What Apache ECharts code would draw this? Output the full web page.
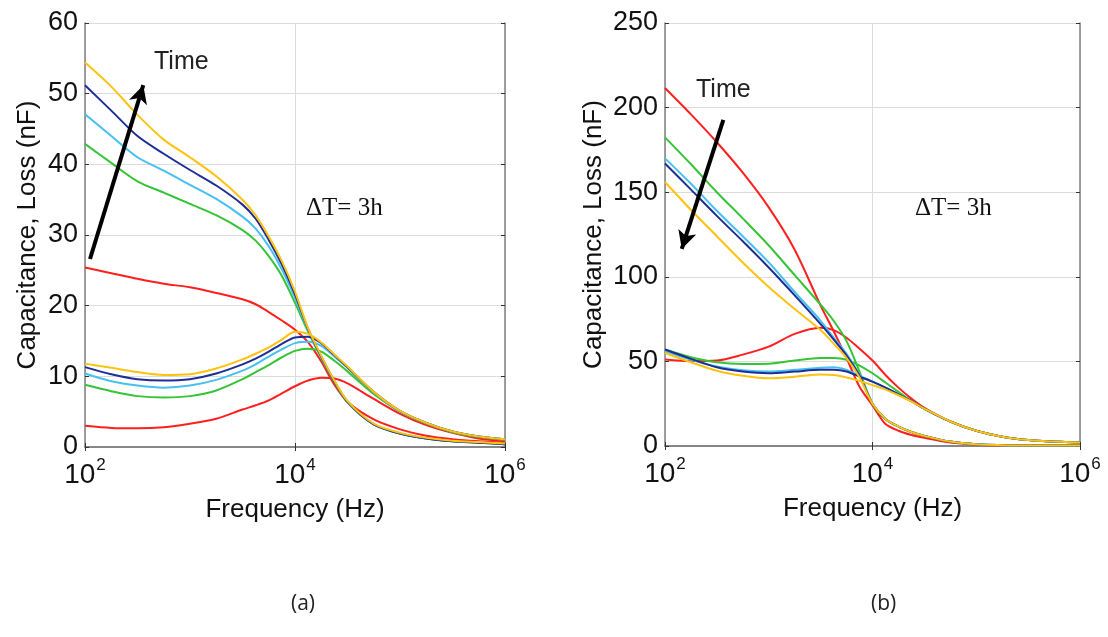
<!DOCTYPE html>
<html><head><meta charset="utf-8">
<script src="https://cdn.jsdelivr.net/npm/echarts@6/dist/echarts.min.js"></script>
<style>html,body{margin:0;padding:0;background:#fff}#c{width:1108px;height:637px}</style>
</head><body><div id="c"></div>
<script>
// Frequencies (Hz), shared by both panels
const freq = [100, 178, 316, 562, 1000, 1778, 3162, 4217, 5623, 7499, 10000, 13335, 17783, 23714, 31623, 56234, 100000, 177828, 316228, 562341, 1000000];

// Panel (a) – capacitance curves (nF)
const aCapRed    = [25.4, 24.6, 23.8, 23.1, 22.6, 21.8, 20.9, 20.2, 19.1, 17.9, 16.6, 14.8, 12.1, 8.8, 6.4, 3.9, 2.5, 1.6, 1.1, 0.8, 0.6];
const aCapGreen  = [42.9, 40.2, 37.6, 36.0, 34.4, 32.8, 30.7, 29.2, 27.0, 24.2, 20.4, 16.3, 12.6, 9.2, 6.3, 3.2, 1.9, 1.2, 0.8, 0.6, 0.4];
const aCapLBlue  = [47.1, 44.0, 41.0, 39.1, 37.1, 35.1, 32.6, 30.9, 28.4, 25.1, 21.1, 16.5, 12.7, 9.3, 6.4, 3.2, 1.9, 1.2, 0.8, 0.6, 0.4];
const aCapDBlue  = [51.2, 47.6, 44.0, 41.5, 39.2, 37.0, 34.3, 32.3, 29.3, 25.8, 21.6, 16.7, 12.8, 9.3, 6.4, 3.2, 1.9, 1.2, 0.8, 0.6, 0.4];
const aCapYellow = [54.4, 51.0, 47.0, 43.5, 41.0, 38.3, 35.0, 32.8, 29.8, 26.3, 22.0, 16.8, 12.9, 9.4, 6.5, 3.3, 2.0, 1.3, 0.9, 0.7, 0.5];
// Panel (a) – loss curves (nF)
const aLossRed    = [3.0, 2.7, 2.65, 2.8, 3.3, 4.0, 5.3, 5.9, 6.6, 7.6, 8.6, 9.4, 9.8, 9.7, 9.0, 6.8, 4.7, 3.1, 2.0, 1.2, 0.8];
const aLossGreen  = [8.8, 7.9, 7.2, 7.0, 7.2, 8.0, 9.6, 10.6, 11.6, 12.7, 13.6, 13.9, 13.5, 12.2, 10.7, 7.5, 5.0, 3.3, 2.1, 1.4, 1.0];
const aLossLBlue  = [10.4, 9.3, 8.7, 8.4, 8.7, 9.5, 10.8, 11.7, 12.8, 13.8, 14.7, 14.9, 14.3, 12.8, 11.2, 7.7, 5.0, 3.4, 2.2, 1.5, 1.1];
const aLossDBlue  = [11.3, 10.3, 9.6, 9.4, 9.6, 10.4, 11.7, 12.5, 13.5, 14.6, 15.5, 15.6, 14.7, 13.0, 11.3, 7.8, 5.1, 3.4, 2.2, 1.5, 1.1];
const aLossYellow = [11.8, 11.2, 10.6, 10.2, 10.3, 11.1, 12.4, 13.2, 14.1, 15.2, 16.3, 16.0, 14.8, 13.1, 11.4, 7.8, 5.1, 3.4, 2.2, 1.5, 1.1];

// Panel (b) – capacitance curves (nF)
const bCapRed    = [211.6, 196, 179.5, 161.5, 141, 116, 83, 68, 52, 35, 24, 13, 9, 6.5, 4.8, 2.0, 0.8, 0.4, 0.4, 0.4, 0.4];
const bCapGreen  = [182.4, 166.5, 150, 134.5, 118.5, 101, 83.5, 74, 62, 44, 25, 16, 11.5, 8.3, 6, 2.6, 1.0, 0.5, 0.3, 0.3, 0.3];
const bCapLBlue  = [170, 155, 139, 124, 108.5, 91, 74, 64, 54.5, 42, 25, 16, 11.5, 8.3, 6, 2.6, 1.0, 0.5, 0.3, 0.3, 0.3];
const bCapDBlue  = [167, 151.5, 136, 121, 105.5, 89, 72, 63, 53.5, 41.5, 25, 16, 11.5, 8.3, 6, 2.6, 1.0, 0.5, 0.3, 0.3, 0.3];
const bCapYellow = [156, 139.5, 124, 108.5, 94, 81, 68.5, 60.5, 52, 40.5, 25, 16, 11.5, 8.3, 6, 2.6, 1.0, 0.5, 0.3, 0.3, 0.3];
// Panel (b) – loss curves (nF)
const bLossRed    = [51.1, 50.2, 50.5, 54, 58.7, 66.3, 69.9, 68.5, 64, 57.5, 50.5, 42, 34.5, 28, 22.5, 14.5, 9, 5.5, 3.5, 2.6, 2.0];
const bLossGreen  = [57, 52.5, 49.5, 48.5, 48.6, 50.5, 52, 52, 51, 47.5, 43, 37.5, 32, 26.5, 22, 14.5, 9, 5.5, 3.5, 2.6, 2.0];
const bLossLBlue  = [56, 51, 47, 44.8, 44, 45, 46.2, 46.5, 45, 41.5, 38, 34.5, 30.5, 26.5, 22, 14.5, 9, 5.5, 3.5, 2.6, 2.0];
const bLossDBlue  = [57, 51.5, 46.5, 44, 43, 44, 45, 45, 44, 41, 38, 34.5, 30.5, 26.5, 22, 14.5, 9, 5.5, 3.5, 2.6, 2.0];
const bLossYellow = [55, 49.5, 44.5, 41.5, 40, 41, 42.3, 42, 40.5, 38.5, 36, 33.3, 30, 26.3, 22, 14.5, 9, 5.5, 3.5, 2.6, 2.0];

// Axis tick values
const yTicksA = [0, 10, 20, 30, 40, 50, 60];
const yTicksB = [0, 50, 100, 150, 200, 250];

const C = {red: '#ff1f1f', green: '#35c435', lblue: '#45c0f0', dblue: '#1d2e94', yellow: '#ffc20e'};
const FONT = '"Liberation Sans", Arial, sans-serif';
const GRAY = '#808080';

function line(data, color, idx) {
  return {
    type: 'line', xAxisIndex: idx, yAxisIndex: idx, showSymbol: false, smooth: 0.3,
    data: freq.map((f, i) => [f, data[i]]),
    lineStyle: {color: color, width: 2}, itemStyle: {color: color}, z: 3, silent: true
  };
}

function xAxes(g) {
  const base = {
    type: 'log', logBase: 10, gridIndex: g, min: 100, max: 1000000, interval: 2,
    axisLine: {show: true, lineStyle: {color: GRAY, width: 1.5}},
    axisTick: {show: true, inside: true, length: 4, lineStyle: {color: '#333'}},
    minorTick: {show: false}, minorSplitLine: {show: false}
  };
  return [
    Object.assign({}, base, {
      position: 'bottom',
      name: 'Frequency (Hz)', nameLocation: 'middle', nameGap: 50,
      nameTextStyle: {fontFamily: FONT, fontSize: 26, color: '#111'},
      splitLine: {show: true, lineStyle: {color: '#dcdcdc', width: 1}},
      axisLabel: {
        margin: 10, fontFamily: FONT, color: '#111',
        formatter: v => '{b|10}{s|' + Math.round(Math.log10(v)) + '}',
        rich: {b: {fontSize: 28, fontFamily: FONT, color: '#111'},
               s: {fontSize: 17, fontFamily: FONT, color: '#111', padding: [0, 0, 20, 1]}}
      }
    }),
    Object.assign({}, base, {position: 'top', axisLabel: {show: false}, splitLine: {show: false}})
  ];
}

function yAxes(g, max, interval, gap) {
  const base = {
    type: 'value', gridIndex: g, min: 0, max: max, interval: interval,
    axisLine: {show: true, lineStyle: {color: GRAY, width: 1.5}},
    axisTick: {show: true, inside: true, length: 4, lineStyle: {color: '#333'}}
  };
  return [
    Object.assign({}, base, {
      position: 'left',
      name: 'Capacitance, Loss (nF)', nameLocation: 'middle', nameGap: gap,
      nameTextStyle: {fontFamily: FONT, fontSize: 26, color: '#111'},
      splitLine: {show: true, lineStyle: {color: '#dcdcdc', width: 1}},
      axisLabel: {margin: 7, fontFamily: FONT, fontSize: 27, color: '#111'}
    }),
    Object.assign({}, base, {position: 'right', axisLabel: {show: false}, splitLine: {show: false}})
  ];
}

function arrow(from, to) {
  return {
    silent: true, symbol: ['none', 'arrow'], symbolSize: [14, 18],
    lineStyle: {color: '#000', width: 4, type: 'solid'}, label: {show: false},
    data: [[{coord: from}, {coord: to}]]
  };
}

const seriesA = [
  line(aCapRed, C.red, 0), line(aLossRed, C.red, 0),
  line(aCapGreen, C.green, 0), line(aLossGreen, C.green, 0),
  line(aCapLBlue, C.lblue, 0), line(aLossLBlue, C.lblue, 0),
  line(aCapDBlue, C.dblue, 0), line(aLossDBlue, C.dblue, 0),
  line(aCapYellow, C.yellow, 0), line(aLossYellow, C.yellow, 0)
];
seriesA[seriesA.length - 1].markLine = arrow([111.6, 26.6], [359, 51.2]);

const seriesB = [
  line(bCapRed, C.red, 2), line(bLossRed, C.red, 2),
  line(bCapGreen, C.green, 2), line(bLossGreen, C.green, 2),
  line(bCapLBlue, C.lblue, 2), line(bLossLBlue, C.lblue, 2),
  line(bCapDBlue, C.dblue, 2), line(bLossDBlue, C.dblue, 2),
  line(bCapYellow, C.yellow, 2), line(bLossYellow, C.yellow, 2)
];
seriesB[seriesB.length - 1].markLine = arrow([365, 192.7], [145, 116.5]);

const xa = xAxes(0), xb = xAxes(1);
const ya = yAxes(0, yTicksA[yTicksA.length - 1], yTicksA[1] - yTicksA[0], 44);
const yb = yAxes(1, yTicksB[yTicksB.length - 1], yTicksB[1] - yTicksB[0], 58);

const chart = echarts.init(document.getElementById('c'), null, {renderer: 'canvas'});
chart.setOption({
  backgroundColor: '#fff',
  animation: false,
  grid: [
    {left: 85, top: 23, width: 420, height: 424},
    {left: 665, top: 23, width: 415, height: 423}
  ],
  xAxis: [xa[0], xa[1], xb[0], xb[1]],
  yAxis: [ya[0], ya[1], yb[0], yb[1]],
  series: seriesA.concat(seriesB),
  graphic: [
    {type: 'text', left: 154, top: 50, style: {text: 'Time', font: '25px "Liberation Sans"', fill: '#222'}},
    {type: 'text', left: 696, top: 78, style: {text: 'Time', font: '25px "Liberation Sans"', fill: '#222'}},
    {type: 'text', left: 306, top: 196, style: {text: 'ΔT= 3h', font: '25px "Liberation Serif"', fill: '#111'}},
    {type: 'text', left: 915, top: 196, style: {text: 'ΔT= 3h', font: '25px "Liberation Serif"', fill: '#111'}},
    {type: 'text', left: 291, top: 594, style: {text: '(a)', font: '21px "Open Sans"', fill: '#222'}},
    {type: 'text', left: 871, top: 594, style: {text: '(b)', font: '21px "Open Sans"', fill: '#222'}}
  ]
});
</script>
</body></html>
